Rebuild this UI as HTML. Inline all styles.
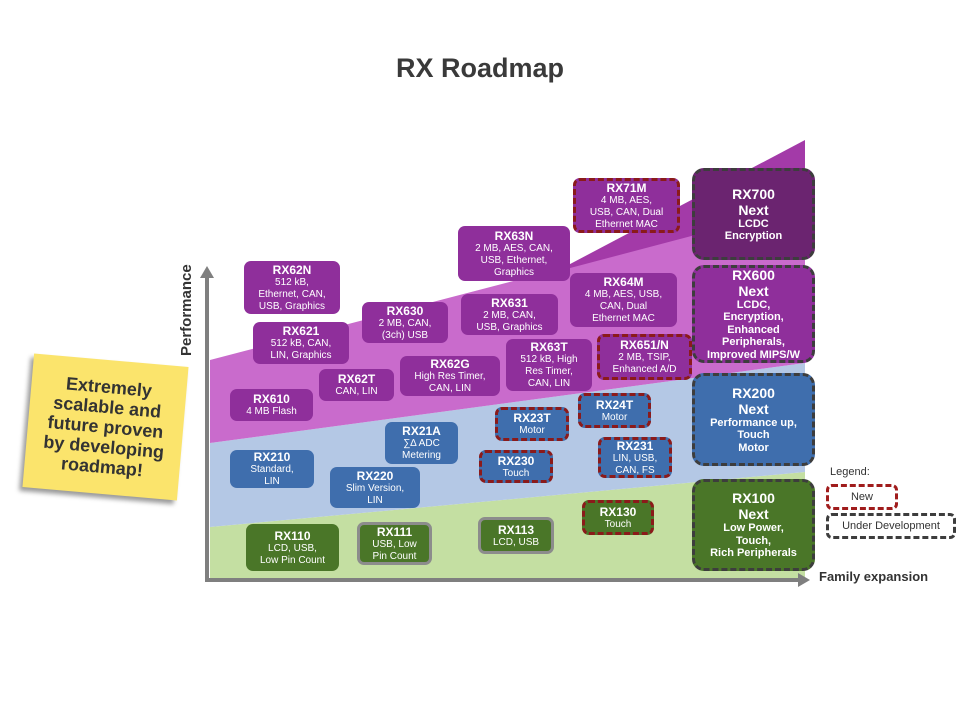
<!DOCTYPE html>
<html><head><meta charset="utf-8"><style>
*{margin:0;padding:0;box-sizing:border-box}
body{width:960px;height:720px;background:#fff;position:relative;overflow:hidden;font-family:"Liberation Sans",sans-serif}
.b{position:absolute;border-radius:7px;color:#fff;display:flex;flex-direction:column;align-items:center;justify-content:center;text-align:center;font-size:10px;line-height:12px}
.b b{font-size:12px;line-height:14px}
.p{background:#8f2f9b}.u{background:#3f6ead}.g{background:#4a7628}
.n{border:3px dashed #8b1a1a}
.d{border:3px dashed #3d3d3d;border-radius:12px;font-weight:bold;font-size:11px;line-height:12.5px}
.d b{font-size:14px;line-height:16px}
.gr{border:3px solid #8c8c8c}
</style></head><body>
<div style="position:absolute;left:0;top:53px;width:960px;text-align:center;font-size:27px;font-weight:bold;color:#3a3a3a">RX Roadmap</div>
<svg style="position:absolute;left:0;top:0" width="960" height="720">
<polygon points="210,527 805,472 805,580 210,580" fill="#c4dfa2"/>
<polygon points="210,443 805,363 805,472 210,527" fill="#b4c8e5"/>
<polygon points="210,360 805,205 805,363 210,443" fill="#c96bcc"/>
<polygon points="555,272 805,140 805,206" fill="#a33aa8"/>
<line x1="207" y1="580" x2="207" y2="276" stroke="#7f7f7f" stroke-width="4"/>
<polygon points="200,278 214,278 207,266" fill="#7f7f7f"/>
<line x1="205" y1="580" x2="800" y2="580" stroke="#7f7f7f" stroke-width="4"/>
<polygon points="798,573 798,587 810,580" fill="#7f7f7f"/>
</svg>
<div style="position:absolute;left:178px;top:356px;transform:rotate(-90deg);transform-origin:0 0;font-size:15px;font-weight:bold;color:#333;white-space:nowrap">Performance</div>
<div style="position:absolute;left:28px;top:360px;width:155px;height:134px;background:#fbe46c;transform:rotate(5deg);box-shadow:-3px 4px 5px rgba(0,0,0,.4);display:flex;align-items:center;justify-content:center;text-align:center;font-weight:bold;font-size:18px;line-height:20px;color:#333">Extremely<br>scalable and<br>future proven<br>by developing<br>roadmap!</div>

<div class="b p" style="left:244px;top:261px;width:96px;height:53px"><b>RX62N</b>512 kB,<br>Ethernet, CAN,<br>USB, Graphics</div>
<div class="b p" style="left:253px;top:322px;width:96px;height:42px"><b>RX621</b>512 kB, CAN,<br>LIN, Graphics</div>
<div class="b p" style="left:230px;top:389px;width:83px;height:32px"><b>RX610</b>4 MB Flash</div>
<div class="b p" style="left:319px;top:369px;width:75px;height:32px"><b>RX62T</b>CAN, LIN</div>
<div class="b p" style="left:362px;top:302px;width:86px;height:41px"><b>RX630</b>2 MB, CAN,<br>(3ch) USB</div>
<div class="b p" style="left:400px;top:356px;width:100px;height:40px"><b>RX62G</b>High Res Timer,<br>CAN, LIN</div>
<div class="b p" style="left:458px;top:226px;width:112px;height:55px"><b>RX63N</b>2 MB, AES, CAN,<br>USB, Ethernet,<br>Graphics</div>
<div class="b p" style="left:461px;top:294px;width:97px;height:41px"><b>RX631</b>2 MB, CAN,<br>USB, Graphics</div>
<div class="b p" style="left:506px;top:339px;width:86px;height:52px"><b>RX63T</b>512 kB, High<br>Res Timer,<br>CAN, LIN</div>
<div class="b p n" style="left:573px;top:178px;width:107px;height:55px"><b>RX71M</b>4 MB, AES,<br>USB, CAN, Dual<br>Ethernet MAC</div>
<div class="b p" style="left:570px;top:273px;width:107px;height:54px"><b>RX64M</b>4 MB, AES, USB,<br>CAN, Dual<br>Ethernet MAC</div>
<div class="b p n" style="left:597px;top:334px;width:95px;height:46px"><b>RX651/N</b>2 MB, TSIP,<br>Enhanced A/D</div>
<div class="b d" style="left:692px;top:168px;width:123px;height:92px;background:#6b2470"><b>RX700</b><b>Next</b>LCDC<br>Encryption</div>
<div class="b d" style="left:692px;top:265px;width:123px;height:98px;background:#8f2f9b"><b>RX600</b><b>Next</b>LCDC,<br>Encryption,<br>Enhanced<br>Peripherals,<br>Improved MIPS/W</div>
<div class="b d" style="left:692px;top:373px;width:123px;height:93px;background:#3f6ead"><b>RX200</b><b>Next</b>Performance up,<br>Touch<br>Motor</div>
<div class="b d" style="left:692px;top:479px;width:123px;height:92px;background:#4a7628"><b>RX100</b><b>Next</b>Low Power,<br>Touch,<br>Rich Peripherals</div>

<div class="b u" style="left:385px;top:422px;width:73px;height:42px"><b>RX21A</b>∑∆ ADC<br>Metering</div>
<div class="b u" style="left:230px;top:450px;width:84px;height:38px"><b>RX210</b>Standard,<br>LIN</div>
<div class="b u" style="left:330px;top:467px;width:90px;height:41px"><b>RX220</b>Slim Version,<br>LIN</div>
<div class="b u n" style="left:495px;top:407px;width:74px;height:34px"><b>RX23T</b>Motor</div>
<div class="b u n" style="left:479px;top:450px;width:74px;height:33px"><b>RX230</b>Touch</div>
<div class="b u n" style="left:578px;top:393px;width:73px;height:35px"><b>RX24T</b>Motor</div>
<div class="b u n" style="left:598px;top:437px;width:74px;height:41px"><b>RX231</b>LIN, USB,<br>CAN, FS</div>

<div class="b g" style="left:246px;top:524px;width:93px;height:47px"><b>RX110</b>LCD, USB,<br>Low Pin Count</div>
<div class="b g gr" style="left:357px;top:522px;width:75px;height:43px"><b>RX111</b>USB, Low<br>Pin Count</div>
<div class="b g gr" style="left:478px;top:517px;width:76px;height:37px"><b>RX113</b>LCD, USB</div>
<div class="b g n" style="left:582px;top:500px;width:72px;height:35px"><b>RX130</b>Touch</div>

<div style="position:absolute;left:830px;top:466px;font-size:11px;color:#333">Legend:</div>
<div style="position:absolute;left:826px;top:484px;width:72px;height:26px;border:3px dashed #a01c1c;border-radius:6px;font-size:11px;color:#333;text-align:center;line-height:20px">New</div>
<div style="position:absolute;left:826px;top:513px;width:130px;height:26px;border:3px dashed #3d3d3d;border-radius:6px;font-size:11px;color:#333;text-align:center;line-height:20px">Under Development</div>
<div style="position:absolute;left:819px;top:569px;font-size:13px;font-weight:bold;color:#333">Family expansion</div>
</body></html>
